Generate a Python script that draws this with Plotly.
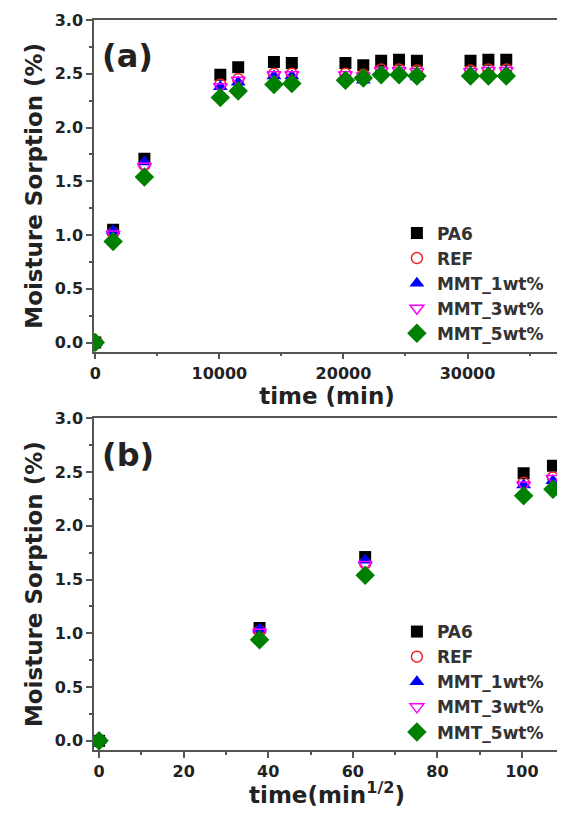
import numpy as np
import plotly.graph_objects as go

# ---- data ----
time_min = [0, 1440, 3960, 10080, 11520, 14400, 15840, 20160, 21600,
            23040, 24480, 25920, 30240, 31680, 33120]
pa6 = [0.00, 1.05, 1.71, 2.49, 2.56, 2.61, 2.60, 2.60, 2.58, 2.62, 2.63, 2.62, 2.62, 2.63, 2.63]
ref = [0.00, 1.02, 1.65, 2.40, 2.45, 2.50, 2.50, 2.50, 2.49, 2.54, 2.54, 2.53, 2.53, 2.54, 2.54]
mmt1 = [0.00, 1.04, 1.68, 2.38, 2.42, 2.48, 2.48, 2.45, 2.44, 2.52, 2.50, 2.47, 2.51, 2.51, 2.52]
mmt3 = [0.00, 1.01, 1.64, 2.38, 2.44, 2.49, 2.49, 2.49, 2.48, 2.53, 2.53, 2.52, 2.52, 2.53, 2.53]
mmt5 = [0.00, 0.94, 1.54, 2.28, 2.34, 2.40, 2.41, 2.44, 2.46, 2.49, 2.49, 2.48, 2.48, 2.48, 2.48]
n_b = 5  # points shown in panel (b)

series_names = ["PA6", "REF", "MMT_1wt%", "MMT_3wt%", "MMT_5wt%"]
series_vals = [pa6, ref, mmt1, mmt3, mmt5]

styles = [
    dict(symbol="square", size=12, color="#000000", line=dict(width=0)),
    dict(symbol="circle-open", size=11, color="#ee2222", line=dict(width=1.5)),
    dict(symbol="triangle-up", size=13, color="#0000ff", line=dict(width=0)),
    dict(symbol="triangle-down-open", size=12, color="#ff00ff", line=dict(width=1.5)),
    dict(symbol="diamond", size=15, color="#008000", line=dict(width=0)),
]

FONT = "DejaVu Sans"
TXT = "#222222"
AX = "#555555"

fig = go.Figure()
for name, vals, st in zip(series_names, series_vals, styles):
    fig.add_trace(go.Scatter(x=time_min, y=vals, mode="markers", name=name,
                             marker=st, xaxis="x", yaxis="y", legend="legend",
                             cliponaxis=True))
sqrt_t = np.sqrt(np.array(time_min[:n_b], dtype=float))
for name, vals, st in zip(series_names, series_vals, styles):
    fig.add_trace(go.Scatter(x=sqrt_t, y=vals[:n_b], mode="markers", name=name,
                             marker=st, xaxis="x2", yaxis="y2", legend="legend2",
                             cliponaxis=True))

tickfont = dict(family=FONT, size=16, color=TXT, weight="bold")
titlefont = dict(family=FONT, size=23, color=TXT, weight="bold")

common_axis = dict(showline=True, linecolor=AX, linewidth=1.5, mirror=True,
                   ticks="outside", ticklen=6, tickwidth=1.5, tickcolor=AX,
                   showgrid=False, zeroline=False, tickfont=tickfont)

legend_common = dict(font=dict(family=FONT, size=17, color="#333333", weight="bold"),
                     bgcolor="rgba(0,0,0,0)", borderwidth=0,
                     xanchor="left", yanchor="bottom", itemwidth=30,
                     tracegroupgap=0)

# page body has an 8px default margin, so the figure is sized to fit the window
fig.update_layout(
    width=557, height=806,
    margin=dict(l=86, r=3, t=9, b=64),
    paper_bgcolor="white", plot_bgcolor="white",
    showlegend=True,
    xaxis=dict(domain=[0, 1], anchor="y", range=[-100, 37450], dtick=10000,
               tickformat="d",
               minor=dict(dtick=5000, ticks="outside", ticklen=3, tickcolor=AX),
               title=dict(text="time (min)", font=titlefont, standoff=0),
               **common_axis),
    yaxis=dict(domain=[0.5457, 1], anchor="x", range=[-0.085, 3.0], dtick=0.5,
               tickformat=".1f",
               minor=dict(dtick=0.25, ticks="outside", ticklen=3, tickcolor=AX),
               title=dict(text="Moisture Sorption (%)", font=titlefont, standoff=6),
               **common_axis),
    xaxis2=dict(domain=[0, 1], anchor="y2", range=[-1.2, 109], dtick=20,
                tickformat="d",
                minor=dict(dtick=10, ticks="outside", ticklen=3, tickcolor=AX),
                **common_axis),
    yaxis2=dict(domain=[0, 0.4543], anchor="x2", range=[-0.085, 3.0], dtick=0.5,
                tickformat=".1f",
                minor=dict(dtick=0.25, ticks="outside", ticklen=3, tickcolor=AX),
                title=dict(text="Moisture Sorption (%)", font=titlefont, standoff=6),
                **common_axis),
    legend=dict(x=0.65, y=0.546, **legend_common),
    legend2=dict(x=0.65, y=0.0, **legend_common),
)

# bottom x-axis title (annotation so the superscript stays inside the page)
fig.add_annotation(text="time(min<sup>1/2</sup>)", xref="x2 domain", yref="y2 domain",
                   x=0.5, y=0, yshift=-43, xanchor="center", yanchor="middle",
                   showarrow=False, font=titlefont)

fig.add_annotation(text="(a)", xref="x domain", yref="y domain", x=0.012, y=0.89,
                   xanchor="left", yanchor="middle", showarrow=False,
                   font=dict(family=FONT, size=32, color=TXT, weight="bold"))
fig.add_annotation(text="(b)", xref="x2 domain", yref="y2 domain", x=0.012, y=0.89,
                   xanchor="left", yanchor="middle", showarrow=False,
                   font=dict(family=FONT, size=32, color=TXT, weight="bold"))

fig.write_html("out.html")
